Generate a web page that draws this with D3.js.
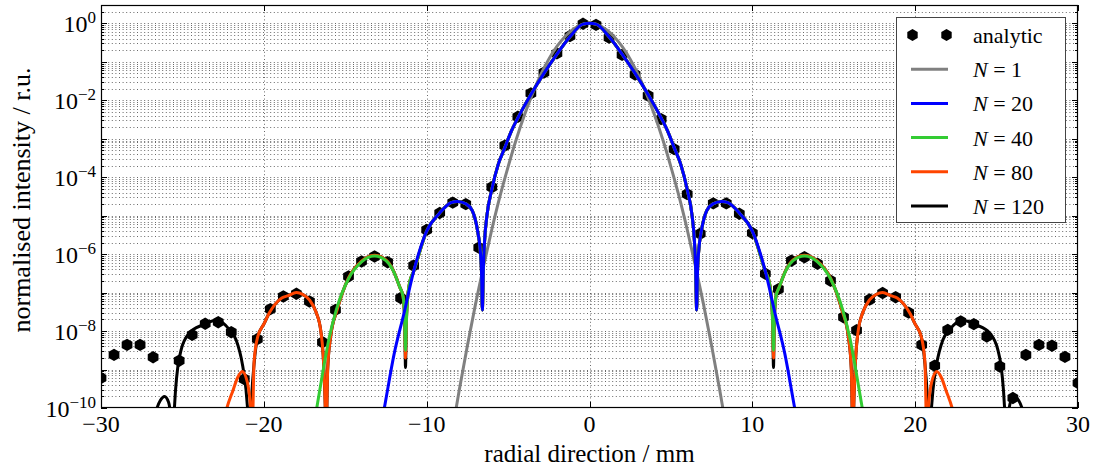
<!DOCTYPE html>
<html>
<head>
<meta charset="utf-8">
<script src="https://cdn.jsdelivr.net/npm/d3@7"></script>
<style>
  body { margin: 0; background: #fff; }
  svg { display: block; font-family: "Liberation Serif", "Times New Roman", serif; }
</style>
</head>
<body>
<svg id="chart" width="1094" height="468"></svg>
<script>
// ---- data -------------------------------------------------------------
// Analytic reference samples: radial position (mm) and log10 of the
// normalised intensity (null = below the plotted range).
const analyticX = [-30.0,-29.2,-28.4,-27.6,-26.8,-26.0,-25.2,-24.4,-23.6,-22.8,-22.0,-21.2,-20.4,-19.6,-18.8,-18.0,-17.2,-16.4,-15.6,-14.8,-14.0,-13.2,-12.4,-11.6,-10.8,-10.0,-9.2,-8.4,-7.6,-6.8,-6.0,-5.2,-4.4,-3.6,-2.8,-2.0,-1.2,-0.4,
                   0.4,1.2,2.0,2.8,3.6,4.4,5.2,6.0,6.8,7.6,8.4,9.2,10.0,10.8,11.6,12.4,13.2,14.0,14.8,15.6,16.4,17.2,18.0,18.8,19.6,20.4,21.2,22.0,22.8,23.6,24.4,25.2,26.0,26.8,27.6,28.4,29.2,30.0];
const analyticLog10 = [-9.22,-8.62,-8.36,-8.36,-8.68,null,-8.77,-8.10,-7.81,-7.77,-8.03,-9.25,-8.21,-7.43,-7.10,-7.03,-7.23,-8.29,-7.45,-6.58,-6.19,-6.06,-6.21,-7.14,-6.30,-5.37,-4.93,-4.66,-4.70,-5.83,-4.26,-3.18,-2.43,-1.82,-1.28,-0.78,-0.33,-0.01,
                       -0.04,-0.37,-0.82,-1.33,-1.88,-2.49,-3.27,-4.44,-5.47,-4.68,-4.68,-4.95,-5.45,-6.51,-6.91,-6.17,-6.08,-6.25,-6.69,-7.64,-7.98,-7.18,-7.01,-7.12,-7.52,-8.36,-8.90,-7.97,-7.75,-7.82,-8.14,-8.92,-9.74,-8.62,-8.36,-8.38,-8.67,-9.35];

// Simulated radial profiles [r (mm), log10 intensity]; the beam is
// rotationally symmetric, so each profile is drawn for -r and +r.
const n1Profile = [[0,0],[0.5,-0.04],[1,-0.15],[1.5,-0.34],[2,-0.6],[2.5,-0.93],[3,-1.34],[3.5,-1.83],[4,-2.39],
  [4.5,-3.02],[5,-3.73],[5.5,-4.5],[6,-5.36],[6.5,-6.3],[7,-7.3],[7.5,-8.38],[8,-9.54],[8.5,-10.77]];

const n20Profile = [[0,0],[0.4,-0.02],[1.2,-0.35],[2.0,-0.80],[2.8,-1.30],[3.6,-1.85],[4.4,-2.46],[4.8,-2.8],[5.2,-3.23],
  [5.6,-3.66],[6.0,-4.32],[6.3,-5.0],[6.45,-5.7],[6.52,-6.4],[6.58,-7.45],[6.63,-6.5],[6.72,-5.85],[6.85,-5.45],
  [7.2,-4.87],[7.6,-4.69],[8.1,-4.63],[8.5,-4.66],[9.2,-4.93],[10.0,-5.40],[10.8,-6.45],
  [11.4,-7.55],[12.0,-8.6],[12.6,-10.0],[13.0,-10.9]];

const n40Profile = [[0,0],[0.4,-0.02],[1.2,-0.35],[2.0,-0.80],[2.8,-1.30],[3.6,-1.85],[4.4,-2.46],[4.8,-2.8],[5.2,-3.23],
  [5.6,-3.66],[6.0,-4.32],[6.3,-5.0],[6.45,-5.7],[6.52,-6.4],[6.58,-7.45],[6.63,-6.5],[6.72,-5.85],[6.85,-5.45],
  [7.2,-4.87],[7.6,-4.69],[8.1,-4.63],[8.5,-4.66],[9.2,-4.93],[10.0,-5.40],[10.8,-6.45],
  [11.05,-6.75],[11.18,-7.2],[11.25,-7.8],[11.3,-8.5],[11.35,-7.7],[11.45,-7.1],[11.66,-6.85],[12.08,-6.41],
  [12.5,-6.17],[13.2,-6.05],[14.0,-6.20],[14.8,-6.64],[15.55,-7.45],[16.0,-8.2],[16.37,-9.05],[16.75,-10.0],[17.1,-10.9]];

const n80Profile = [[0,0],[0.4,-0.02],[1.2,-0.35],[2.0,-0.80],[2.8,-1.30],[3.6,-1.85],[4.4,-2.46],[4.8,-2.8],[5.2,-3.23],
  [5.6,-3.66],[6.0,-4.32],[6.3,-5.0],[6.45,-5.7],[6.52,-6.4],[6.58,-7.45],[6.63,-6.5],[6.72,-5.85],[6.85,-5.45],
  [7.2,-4.87],[7.6,-4.69],[8.1,-4.63],[8.5,-4.66],[9.2,-4.93],[10.0,-5.40],[10.8,-6.45],
  [11.05,-6.75],[11.18,-7.2],[11.25,-7.8],[11.3,-8.7],[11.35,-7.7],[11.45,-7.1],[11.66,-6.85],[12.08,-6.40],
  [12.5,-6.15],[13.2,-6.03],[14.0,-6.18],[14.8,-6.62],[15.5,-7.45],[15.9,-8.15],[16.08,-9.0],[16.17,-10.6],
  [16.26,-9.5],[16.36,-8.6],[16.5,-8.0],[16.8,-7.5],[17.2,-7.19],[17.6,-7.05],[18.0,-7.0],[18.5,-7.08],[18.9,-7.14],
  [19.3,-7.3],[19.65,-7.52],[20.0,-7.82],[20.37,-8.14],[20.6,-8.8],[20.71,-10.6],[20.85,-9.8],[21.0,-9.35],
  [21.33,-9.05],[21.6,-9.2],[21.9,-9.55],[22.27,-10.0],[22.5,-10.4]];

const n120Profile = [[0,0],[0.4,-0.02],[1.2,-0.35],[2.0,-0.80],[2.8,-1.30],[3.6,-1.85],[4.4,-2.46],[4.8,-2.8],[5.2,-3.23],
  [5.6,-3.66],[6.0,-4.32],[6.3,-5.0],[6.45,-5.7],[6.52,-6.4],[6.58,-7.45],[6.63,-6.5],[6.72,-5.85],[6.85,-5.45],
  [7.2,-4.87],[7.6,-4.69],[8.1,-4.63],[8.5,-4.66],[9.2,-4.93],[10.0,-5.40],[10.8,-6.45],
  [11.05,-6.75],[11.18,-7.2],[11.25,-7.8],[11.3,-8.95],[11.35,-7.7],[11.45,-7.1],[11.66,-6.85],[12.08,-6.40],
  [12.5,-6.15],[13.2,-6.03],[14.0,-6.18],[14.8,-6.62],[15.5,-7.45],[15.9,-8.15],[16.08,-9.0],[16.17,-10.6],
  [16.26,-9.5],[16.36,-8.6],[16.5,-8.0],[16.8,-7.5],[17.2,-7.19],[17.6,-7.05],[18.0,-7.0],[18.5,-7.08],[18.9,-7.14],
  [19.3,-7.3],[19.65,-7.52],[20.0,-7.82],[20.37,-8.14],[20.6,-8.85],[20.75,-9.7],[20.85,-10.6],[21.0,-10.0],
  [21.1,-9.5],[21.3,-8.9],[21.7,-8.23],[22.1,-7.97],[22.9,-7.72],[23.75,-7.84],[24.57,-8.05],[25.08,-8.49],
  [25.28,-8.92],[25.42,-9.52],[25.52,-10.2],[25.62,-10.8],[25.72,-10.2],[25.85,-9.85],[26.1,-9.70],[26.35,-9.8],
  [26.6,-10.05],[26.9,-10.6]];

const seriesLabels = ["1", "20", "40", "80", "120"];
const seriesColors = ["#808080", "#0000ff", "#33cc33", "#ff4500", "#000000"];
const seriesProfiles = [n1Profile, n20Profile, n40Profile, n80Profile, n120Profile];

const xTicks = [-30, -20, -10, 0, 10, 20, 30];
const yTickExponents = [0, -2, -4, -6, -8, -10];

// ---- layout -----------------------------------------------------------
const svg = d3.select("#chart");
const plotL = 101, plotR = 1078, plotT = 5, plotB = 408;

const x = d3.scaleLinear().domain([-30, 30]).range([plotL, plotR]);
const y = d3.scaleLog().domain([1e-10, 3]).range([plotB, plotT]);

svg.append("defs").append("clipPath").attr("id", "plot-clip")
  .append("rect").attr("x", plotL).attr("y", plotT)
  .attr("width", plotR - plotL).attr("height", plotB - plotT);

// ---- grid (dotted, major + minor decades) -----------------------------
const gridVals = [];
for (let e = -10; e <= 0; e++) {
  for (let m = 1; m <= 9; m++) {
    const v = m * Math.pow(10, e);
    if (v > 1e-10 && v <= 3) gridVals.push(v);
  }
}
const grid = svg.append("g").attr("stroke", "#444").attr("stroke-width", 0.8)
  .attr("stroke-dasharray", "1,2.6").attr("fill", "none");
grid.selectAll("line.h").data(gridVals).join("line").attr("class", "h")
  .attr("x1", plotL).attr("x2", plotR)
  .attr("y1", d => Math.round(y(d)) + 0.5).attr("y2", d => Math.round(y(d)) + 0.5);
grid.selectAll("line.v").data(xTicks.slice(1, -1)).join("line").attr("class", "v")
  .attr("y1", plotT).attr("y2", plotB)
  .attr("x1", d => Math.round(x(d)) + 0.5).attr("x2", d => Math.round(x(d)) + 0.5);

// ---- analytic samples (hexagon markers) -------------------------------
const analytic = analyticX.map((xv, i) => [xv, analyticLog10[i]]).filter(d => d[1] !== null);

function hexPath(cx, cy, r) {
  const pts = d3.range(6).map(k => {
    const a = Math.PI / 2 + k * Math.PI / 3;
    return [cx + r * Math.cos(a), cy - r * Math.sin(a)];
  });
  return "M" + pts.map(p => p[0].toFixed(2) + "," + p[1].toFixed(2)).join("L") + "Z";
}

const plotG = svg.append("g").attr("clip-path", "url(#plot-clip)");
plotG.append("g").selectAll("path").data(analytic).join("path")
  .attr("d", d => hexPath(x(d[0]), y(Math.pow(10, d[1])), 6.2))
  .attr("fill", "#000");

// ---- simulated profiles ------------------------------------------------
const line = d3.line()
  .x(d => x(d[0]))
  .y(d => y(Math.pow(10, d[1])))
  .curve(d3.curveMonotoneX);

function mirrored(profile) {
  const left = profile.slice(1).reverse().map(([r, v]) => [-r, v]);
  return left.concat(profile);
}

// drawing order: N = 1, then highest N first so the lower orders sit on top
const drawOrder = [0, 4, 3, 2, 1];
drawOrder.forEach(i => {
  plotG.append("path")
    .datum(mirrored(seriesProfiles[i]))
    .attr("d", line)
    .attr("fill", "none")
    .attr("stroke", seriesColors[i])
    .attr("stroke-width", 3)
    .attr("stroke-linejoin", "round");
});

// ---- axes frame and ticks ----------------------------------------------
const axisG = svg.append("g").attr("stroke", "#000").attr("stroke-width", 1);
xTicks.forEach(t => {
  const px = Math.round(x(t)) + 0.5;
  axisG.append("line").attr("x1", px).attr("x2", px).attr("y1", plotB).attr("y2", plotB - 6);
  axisG.append("line").attr("x1", px).attr("x2", px).attr("y1", plotT).attr("y2", plotT + 6);
});
gridVals.concat([1e-10]).forEach(v => {
  const major = Math.abs(Math.log10(v) - Math.round(Math.log10(v))) < 1e-9;
  const len = major ? 6 : 3;
  const py = Math.round(y(v)) + 0.5;
  axisG.append("line").attr("x1", plotL).attr("x2", plotL + len).attr("y1", py).attr("y2", py);
  axisG.append("line").attr("x1", plotR).attr("x2", plotR - len).attr("y1", py).attr("y2", py);
});
svg.append("rect")
  .attr("x", plotL + 0.5).attr("y", plotT + 0.5)
  .attr("width", plotR - plotL - 1).attr("height", plotB - plotT - 1)
  .attr("fill", "none").attr("stroke", "#000").attr("stroke-width", 1.2);

// ---- tick labels -------------------------------------------------------
svg.append("g").selectAll("text").data(xTicks).join("text")
  .attr("x", d => x(d)).attr("y", 432)
  .attr("text-anchor", "middle")
  .attr("font-size", 24)
  .text(d => d < 0 ? "\u2212" + Math.abs(d) : String(d));

const yl = svg.append("g").selectAll("text").data(yTickExponents).join("text")
  .attr("x", 96).attr("y", d => y(Math.pow(10, d)) + 9)
  .attr("text-anchor", "end")
  .attr("font-size", 24);
yl.append("tspan").text("10");
yl.append("tspan").attr("dy", -9).attr("font-size", 17)
  .text(d => d === 0 ? "0" : "\u2212" + Math.abs(d));

// ---- axis titles -------------------------------------------------------
svg.append("text")
  .attr("x", (plotL + plotR) / 2).attr("y", 462)
  .attr("text-anchor", "middle").attr("font-size", 25)
  .text("radial direction / mm");

svg.append("text")
  .attr("transform", "translate(30," + 200 + ") rotate(-90)")
  .attr("text-anchor", "middle").attr("font-size", 26)
  .text("normalised intensity / r.u.");

// ---- legend ------------------------------------------------------------
const lg = svg.append("g");
lg.append("rect").attr("x", 896.5).attr("y", 17.5).attr("width", 169).attr("height", 205)
  .attr("fill", "#fff").attr("stroke", "#444").attr("stroke-width", 1);

const rowY = d3.range(6).map(i => 35 + i * 34.2);
lg.append("path").attr("d", hexPath(912.5, rowY[0], 6)).attr("fill", "#000");
lg.append("path").attr("d", hexPath(946.5, rowY[0], 6)).attr("fill", "#000");
lg.append("text").attr("x", 973).attr("y", rowY[0] + 8).attr("font-size", 22).text("analytic");

seriesLabels.forEach((lab, i) => {
  const yy = rowY[i + 1];
  lg.append("line").attr("x1", 911).attr("x2", 948).attr("y1", yy).attr("y2", yy)
    .attr("stroke", seriesColors[i]).attr("stroke-width", 3);
  const t = lg.append("text").attr("x", 973).attr("y", yy + 8).attr("font-size", 22);
  t.append("tspan").attr("font-style", "italic").text("N");
  t.append("tspan").text(" = " + lab);
});
</script>
</body>
</html>
